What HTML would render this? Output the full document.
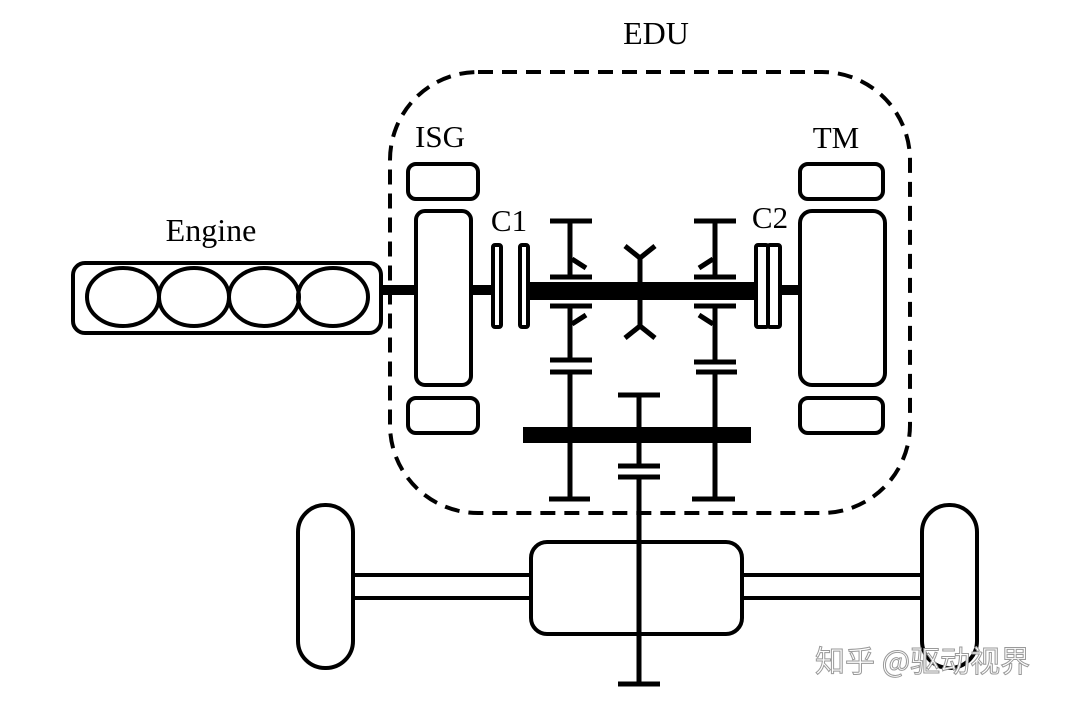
<!DOCTYPE html>
<html><head><meta charset="utf-8"><style>
html,body{margin:0;padding:0;background:#fff;width:1074px;height:709px;overflow:hidden}
text{font-family:"Liberation Serif",serif;fill:#000}
</style></head><body>
<svg width="1074" height="709" viewBox="0 0 1074 709" xmlns="http://www.w3.org/2000/svg">
<g fill="none" stroke="#000" stroke-width="4">
<rect x="390" y="72" width="520" height="441" rx="88" stroke-dasharray="15 9"/>
<rect x="73" y="263" width="308" height="70" rx="12"/>
<ellipse cx="123" cy="297" rx="36" ry="29"/>
<ellipse cx="194" cy="297" rx="35" ry="29"/>
<ellipse cx="264" cy="297" rx="35" ry="29"/>
<ellipse cx="333" cy="297" rx="35" ry="29"/>
<rect x="408" y="164" width="70" height="35" rx="8"/>
<rect x="416" y="211" width="55" height="174" rx="9"/>
<rect x="408" y="398" width="70" height="35" rx="8"/>
<rect x="800" y="164" width="83" height="35" rx="8"/>
<rect x="800" y="211" width="85" height="174" rx="12"/>
<rect x="800" y="398" width="83" height="35" rx="8"/>
<rect x="493" y="245" width="8" height="82" rx="2"/>
<rect x="520" y="245" width="8" height="82" rx="2"/>
<rect x="756" y="245" width="12" height="82" rx="2"/>
<rect x="768" y="245" width="12" height="82" rx="2"/>
<rect x="298" y="505" width="55" height="163" rx="27"/>
<rect x="922" y="505" width="55" height="163" rx="27"/>
<rect x="531" y="542" width="211" height="92" rx="16"/>
</g>
<g stroke="#000" fill="none">
<line x1="381" y1="290" x2="416" y2="290" stroke-width="10"/>
<line x1="471" y1="290" x2="493" y2="290" stroke-width="10"/>
<line x1="528" y1="291" x2="756" y2="291" stroke-width="18"/>
<line x1="780" y1="290" x2="800" y2="290" stroke-width="10"/>
<line x1="523" y1="435" x2="751" y2="435" stroke-width="16"/>
<g stroke-width="4">
<line x1="353" y1="575" x2="531" y2="575"/><line x1="353" y1="598" x2="531" y2="598"/>
<line x1="742" y1="575" x2="922" y2="575"/><line x1="742" y1="598" x2="922" y2="598"/>
</g>
<g stroke-width="5">
<line x1="570" y1="221" x2="570" y2="277"/><line x1="550" y1="221" x2="592" y2="221"/>
<line x1="550" y1="277" x2="592" y2="277"/><line x1="550" y1="306" x2="592" y2="306"/>
<line x1="570" y1="306" x2="570" y2="360"/><line x1="550" y1="360" x2="592" y2="360"/>
<line x1="550" y1="372" x2="592" y2="372"/><line x1="570" y1="372" x2="570" y2="499"/>
<line x1="549" y1="499" x2="590" y2="499"/>
<line x1="572" y1="259" x2="586" y2="268"/><line x1="572" y1="324" x2="586" y2="315"/>
<polyline points="625,246 640,258 655,246"/><line x1="640" y1="258" x2="640" y2="282"/>
<polyline points="625,338 640,326 655,338"/><line x1="640" y1="300" x2="640" y2="326"/>
<line x1="715" y1="221" x2="715" y2="277"/><line x1="694" y1="221" x2="736" y2="221"/>
<line x1="694" y1="277" x2="736" y2="277"/><line x1="694" y1="306" x2="736" y2="306"/>
<line x1="715" y1="306" x2="715" y2="362"/><line x1="694" y1="362" x2="736" y2="362"/>
<line x1="696" y1="372" x2="737" y2="372"/><line x1="715" y1="372" x2="715" y2="499"/>
<line x1="692" y1="499" x2="735" y2="499"/>
<line x1="713" y1="259" x2="699" y2="268"/><line x1="713" y1="324" x2="699" y2="315"/>
<line x1="618" y1="395" x2="660" y2="395"/><line x1="639" y1="395" x2="639" y2="466"/>
<line x1="618" y1="466" x2="660" y2="466"/><line x1="618" y1="477" x2="660" y2="477"/>
<line x1="639" y1="477" x2="639" y2="684"/><line x1="618" y1="684" x2="660" y2="684"/>
</g>
</g>
<text x="656" y="44" font-size="32" text-anchor="middle">EDU</text>
<text x="440" y="147" font-size="31" text-anchor="middle">ISG</text>
<text x="836" y="148" font-size="31" text-anchor="middle">TM</text>
<text x="211" y="241" font-size="32" text-anchor="middle">Engine</text>
<text x="509" y="231" font-size="31" text-anchor="middle">C1</text>
<text x="770" y="228" font-size="31" text-anchor="middle">C2</text>
<text x="815" y="672" font-size="30" style="font-family:'Noto Sans CJK SC',sans-serif;fill:#fff;stroke:#999;stroke-width:1">知乎 @驱动视界</text>
</svg>
</body></html>
